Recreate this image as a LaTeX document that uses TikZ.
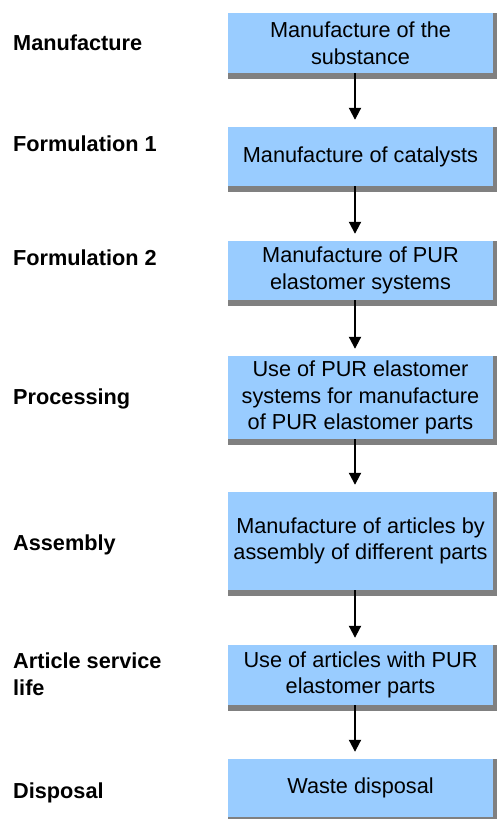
\documentclass[tikz,border=0pt]{standalone}
\usepackage{fontspec}
\setmainfont{Liberation Sans}
\usetikzlibrary{arrows.meta,backgrounds}
\definecolor{boxblue}{HTML}{99CCFF}
\definecolor{shadowgrey}{HTML}{808080}
\begin{document}
\begin{tikzpicture}[x=1pt,y=-1pt,
  stagebox/.style={fill=boxblue, draw=none, minimum width=265pt, inner sep=0pt,
    align=center, font=\fontsize{21.7}{26.7}\selectfont},
  stagelabel/.style={anchor=base west, inner sep=0pt, align=left,
    font=\fontsize{21.7}{26.7}\selectfont\bfseries},
  flowarrow/.style={line width=2pt, -{Triangle[length=12pt,width=12pt]}}]
\useasboundingbox (0,0) rectangle (497,819);

\node[stagebox, minimum height=60pt] (b1) at (360.5,43) {Manufacture of the\\substance};
\node[stagebox, minimum height=59pt] (b2) at (360.5,156.5) {Manufacture of catalysts};
\node[stagebox, minimum height=59pt] (b3) at (360.5,270.5) {Manufacture of PUR\\elastomer systems};
\node[stagebox, minimum height=83pt] (b4) at (360.5,397.5) {Use of PUR elastomer\\systems for manufacture\\of PUR elastomer parts};
\node[stagebox, minimum height=98pt] (b5) at (360.5,541) {Manufacture of articles by\\assembly of different parts};
\node[stagebox, minimum height=60pt] (b6) at (360.5,675) {Use of articles with PUR\\elastomer parts};
\node[stagebox, minimum height=58pt] (b7) at (360.5,788) {Waste disposal};

\begin{scope}[on background layer]
\foreach \b in {b1,b2,b3,b4,b5,b6,b7}
  \fill[shadowgrey] (\b.north west) rectangle ([xshift=4pt,yshift=-6pt]\b.south east);
\end{scope}

\node[stagelabel] (l1) at (13,50) {Manufacture};
\node[stagelabel] (l2) at (13,151) {Formulation 1};
\node[stagelabel] (l3) at (13,265) {Formulation 2};
\node[stagelabel] (l4) at (13,404) {Processing};
\node[stagelabel] (l5) at (13,550) {Assembly};
\node[stagelabel] (l6) at (13,695) {Article service\\life};
\node[stagelabel] (l7) at (13,798) {Disposal};

\foreach \a/\b in {b1/b2,b2/b3,b3/b4,b4/b5,b5/b6,b6/b7}
  \draw[flowarrow] ([xshift=-5.5pt]\a.south) -- ([xshift=-5.5pt,yshift=7pt]\b.north);
\end{tikzpicture}
\end{document}
